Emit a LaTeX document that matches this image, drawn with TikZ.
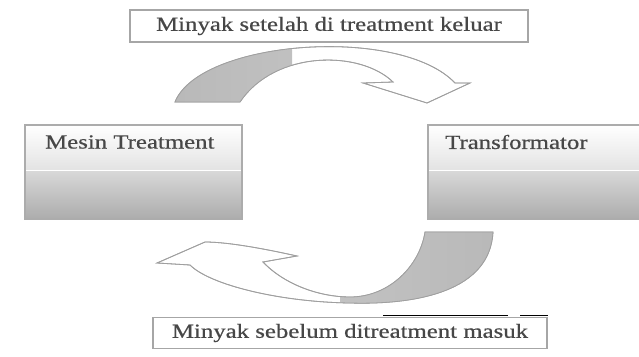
\documentclass[tikz,border=0pt]{standalone}
\usepackage{fontspec}
\setmainfont[FakeStretch=1.24,FakeBold=0.6]{Liberation Serif}

\tikzset{
  boxtext/.style={font=\fontsize{20}{22}\selectfont, text=black!72, inner sep=0pt},
  titlebox/.style={boxtext, draw=gray!70, line width=1.4, fill=white},
  bandline/.style={draw=gray!75, line width=0.8},
}

\begin{document}
\begin{tikzpicture}[x=1pt,y=-1pt]
\useasboundingbox (0,0) rectangle (639,356);

%Shape: Curved Arrow top
\draw [bandline, fill=white] (175,102) .. controls (200,40) and (400,25) .. (455,83) -- (470,83) -- (427,103) -- (363,83) -- (393,82) .. controls (360,50) and (275,50) .. (240,102) -- cycle ;
\begin{scope}
\clip (0,0) rectangle (292,356);
\shade [left color=gray!55, right color=gray!40] (175,102) .. controls (200,40) and (400,25) .. (455,83) -- (470,83) -- (427,103) -- (363,83) -- (393,82) .. controls (360,50) and (275,50) .. (240,102) -- cycle ;
\end{scope}
\draw [bandline] (175,102) .. controls (200,40) and (400,25) .. (455,83) -- (470,83) -- (427,103) -- (363,83) -- (393,82) .. controls (360,50) and (275,50) .. (240,102) -- cycle ;

%Shape: Curved Arrow bottom
\draw [bandline, fill=white] (493,232) .. controls (490,290) and (420,305) .. (350,303) .. controls (280,302) and (210,285) .. (190,265) -- (157,263) -- (205,242) .. controls (230,242) and (270,250) .. (297,256) -- (263,262) .. controls (285,285) and (320,297) .. (350,297) .. controls (390,297) and (420,265) .. (425,232) -- cycle ;
\begin{scope}
\clip (340,0) rectangle (639,356);
\shade [left color=gray!40, right color=gray!55] (493,232) .. controls (490,290) and (420,305) .. (350,303) .. controls (280,302) and (210,285) .. (190,265) -- (157,263) -- (205,242) .. controls (230,242) and (270,250) .. (297,256) -- (263,262) .. controls (285,285) and (320,297) .. (350,297) .. controls (390,297) and (420,265) .. (425,232) -- cycle ;
\end{scope}
\draw [bandline] (493,232) .. controls (490,290) and (420,305) .. (350,303) .. controls (280,302) and (210,285) .. (190,265) -- (157,263) -- (205,242) .. controls (230,242) and (270,250) .. (297,256) -- (263,262) .. controls (285,285) and (320,297) .. (350,297) .. controls (390,297) and (420,265) .. (425,232) -- cycle ;

%Shape: Rectangle left
\shade [top color=white, bottom color=gray!22] (25,125) rectangle (242,170) ;
\shade [top color=gray!30, bottom color=gray!65] (25,170) rectangle (242,219) ;
\draw [white, line width=1] (25,170) -- (242,170) ;
\draw [gray!65, line width=1.2] (25,125) rectangle (242,219) ;
%Shape: Rectangle right
\shade [top color=white, bottom color=gray!22] (428,125) rectangle (641,170) ;
\shade [top color=gray!30, bottom color=gray!65] (428,170) rectangle (641,219) ;
\draw [white, line width=1] (428,170) -- (641,170) ;
\draw [gray!65, line width=1.2] (428,125) rectangle (641,219) ;

\draw [black, line width=1] (383,315) -- (508,315) ;
\draw [black, line width=1] (520,315) -- (548,315) ;

% Text Node
\node [titlebox, minimum width=398, minimum height=32] (keluar) at (329,26) {Minyak setelah di treatment keluar};
\node [titlebox, minimum width=394, minimum height=31] (masuk) at (350,333) {Minyak sebelum ditreatment masuk};
\node [boxtext, anchor=west] (mesin) at (45,142) {Mesin Treatment};
\node [boxtext, anchor=west] (trafo) at (445,142) {Transformator};

\end{tikzpicture}
\end{document}
